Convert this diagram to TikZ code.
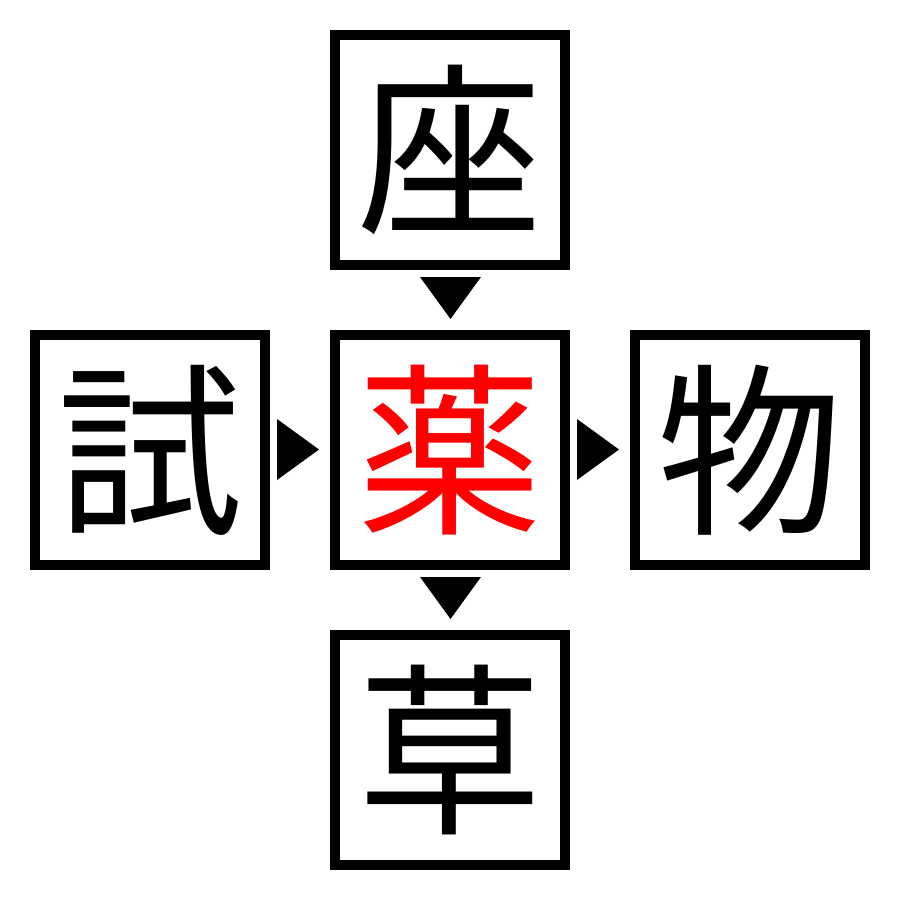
\documentclass[tikz,border=0pt]{standalone}
\usepackage{fontspec}
\newfontfamily\cjk{Noto Sans CJK JP}
\begin{document}
\begin{tikzpicture}[x=1pt,y=-1pt,
  kbox/.style={draw=black,line width=10pt,minimum size=230pt,inner sep=0pt,fill=white,
    font=\cjk\fontsize{185}{185}\selectfont,text height=162.8pt,text depth=22.2pt},
  tri/.style={fill=black}]
\useasboundingbox (0,0) rectangle (900,900);
\node[kbox] (top) at (450,150) {座};
\node[kbox] (left) at (150,450) {試};
\node[kbox,text=red] (mid) at (450,450) {薬};
\node[kbox] (right) at (750,450) {物};
\node[kbox] (bot) at (450,750) {草};
\fill[tri] ([xshift=-30pt,yshift=-7pt]top.south) -- ([xshift=31pt,yshift=-7pt]top.south) -- ([xshift=0.5pt,yshift=-49pt]top.south) -- cycle;
\fill[tri] ([xshift=-30pt,yshift=-7pt]mid.south) -- ([xshift=31pt,yshift=-7pt]mid.south) -- ([xshift=0.5pt,yshift=-49pt]mid.south) -- cycle;
\fill[tri] ([xshift=7pt,yshift=-30pt]left.east) -- ([xshift=7pt,yshift=31pt]left.east) -- ([xshift=49pt,yshift=0.5pt]left.east) -- cycle;
\fill[tri] ([xshift=7pt,yshift=-30pt]mid.east) -- ([xshift=7pt,yshift=31pt]mid.east) -- ([xshift=49pt,yshift=0.5pt]mid.east) -- cycle;
\end{tikzpicture}
\end{document}
